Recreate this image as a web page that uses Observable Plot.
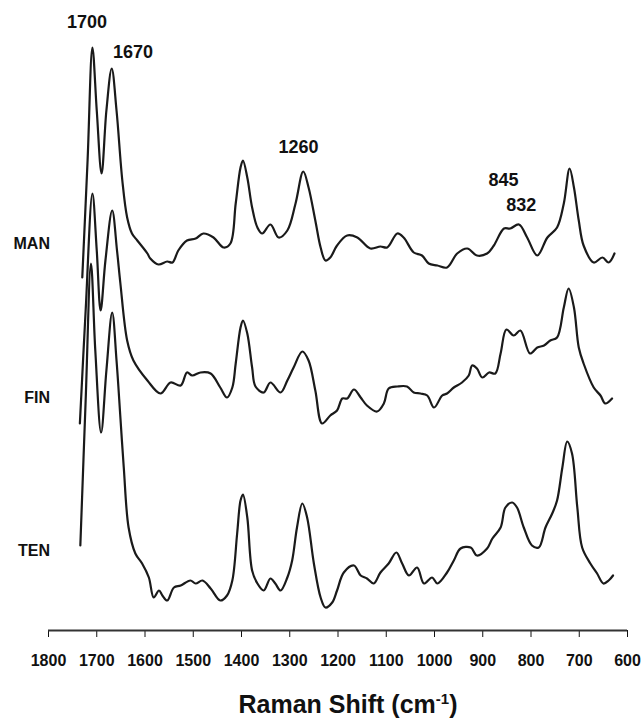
<!DOCTYPE html>
<html>
<head>
<meta charset="utf-8">
<script src="https://cdn.jsdelivr.net/npm/d3@7"></script>
<script src="https://cdn.jsdelivr.net/npm/@observablehq/plot@0.6"></script>
<style>
  html, body { margin: 0; padding: 0; background: #fff; }
  #chart { width: 644px; }
  #xtitle { font-family: "Liberation Sans", Arial, sans-serif; font-weight: bold; font-size: 25px;
            color: #111; text-align: center; padding-left: 52px; width: 592px; line-height: 30px; }
  #xtitle sup { font-size: 0.6em; }
</style>
</head>
<body>
<div id="chart"></div>
<div id="xtitle">Raman Shift (cm<sup>-1</sup>)</div>
<script>
// Raman shift (cm-1) and stacked intensity (a.u.) for each sample
const manShift = [1730,1719,1709,1700,1690,1680,1669,1659,1647,1637,1627,1616,1595,1589,1572,1554,1543,1531,1513,1495,1479,1458,1437,1423,1412,1402,1397,1388,1378,1367,1357,1340,1323,1305,1288,1272,1261,1247,1236,1226,1216,1202,1181,1160,1133,1112,1098,1077,1064,1043,1026,1012,994,974,953,932,912,891,877,856,843,825,808,787,766,746,732,720,711,701,691,670,652,639,627];
const manIntensity = [353,470,583,520,457,520,562,520,450,413,397,390,377,372,366,369,368,380,390,392,397,393,383,387,427,463,470,453,423,403,397,406,393,400,427,459,443,410,383,370,373,385,395,393,382,384,383,397,393,378,375,367,365,363,377,382,375,377,385,402,402,406,393,375,393,403,427,462,443,410,385,368,373,368,377];

const finShift = [1735,1723,1709,1700,1692,1682,1668,1658,1651,1637,1624,1595,1568,1547,1526,1513,1502,1485,1464,1444,1430,1419,1412,1402,1397,1388,1378,1371,1354,1340,1319,1305,1292,1274,1261,1247,1233,1216,1202,1191,1181,1167,1153,1140,1119,1105,1095,1077,1057,1043,1029,1015,1001,984,974,960,943,929,922,912,901,887,874,863,851,836,822,802,787,773,760,746,732,722,711,701,691,670,656,646,632];
const finIntensity = [207,320,437,380,320,370,420,380,347,290,270,250,237,248,245,258,255,258,257,243,233,243,267,303,310,297,263,244,238,248,238,250,263,279,270,240,207,215,220,232,232,241,233,225,219,227,242,244,244,238,237,235,223,235,237,243,248,255,265,262,253,258,257,277,301,295,300,277,283,285,290,293,323,342,323,283,267,243,235,227,232];

const tenShift = [1734,1723,1712,1703,1691,1680,1668,1659,1651,1644,1634,1620,1606,1592,1582,1571,1564,1554,1540,1526,1506,1495,1481,1464,1444,1430,1419,1409,1402,1397,1388,1378,1367,1354,1340,1330,1319,1305,1295,1285,1274,1264,1250,1236,1226,1212,1202,1188,1167,1153,1140,1126,1112,1095,1079,1067,1053,1036,1022,1005,994,974,960,946,925,912,891,880,863,853,839,829,815,798,784,770,756,746,735,725,715,704,694,677,663,650,639,630];
const tenIntensity = [85,230,367,280,198,260,318,270,213,163,103,77,67,53,33,40,35,30,43,45,50,47,50,42,30,35,50,97,130,136,113,60,47,40,52,47,40,53,70,103,127,113,67,33,23,28,40,58,65,55,52,47,58,67,78,67,55,63,47,53,47,58,70,82,83,75,82,92,103,123,128,123,103,85,83,103,117,130,163,189,177,123,83,67,57,47,50,55];

const samples = ["MAN", "FIN", "TEN"];
const sampleLabelLevel = [387, 233, 80];   // intensity level at which each sample name sits
const xTicks = [1800,1700,1600,1500,1400,1300,1200,1100,1000,900,800,700,600];

const peakLabels = ["1700", "1670", "1260", "845", "832"];
const peakLabelShift = [1720, 1625, 1282, 857, 820];
const peakLabelLevel = [608, 578, 483, 450, 425];

const spectra = [
  ...manShift.map((s, i) => ({sample: "MAN", shift: s, intensity: manIntensity[i]})),
  ...finShift.map((s, i) => ({sample: "FIN", shift: s, intensity: finIntensity[i]})),
  ...tenShift.map((s, i) => ({sample: "TEN", shift: s, intensity: tenIntensity[i]}))
];
const sampleLabels = samples.map((s, i) => ({name: s, level: sampleLabelLevel[i]}));
const peaks = peakLabels.map((t, i) => ({text: t, shift: peakLabelShift[i], level: peakLabelLevel[i]}));

const chart = Plot.plot({
  width: 644,
  height: 684,
  marginLeft: 48,
  marginRight: 17,
  marginTop: 0,
  marginBottom: 54,
  style: {fontFamily: "'Liberation Sans', Arial, sans-serif", fontSize: "16px", fontWeight: "bold", color: "#111", background: "#fff"},
  x: {domain: [1800, 600], range: [48, 627], ticks: xTicks, tickSize: 7, tickPadding: 17, tickFormat: d => String(d), label: null},
  y: {domain: [0, 630], range: [630, 0], axis: null},
  marks: [
    Plot.ruleY([0], {x1: 1800, x2: 600, stroke: "#333", strokeWidth: 2}),
    Plot.line(spectra, {x: "shift", y: "intensity", z: "sample", stroke: "#1a1a1a", strokeWidth: 2.2, curve: "catmull-rom"}),
    Plot.text(peaks, {x: "shift", y: "level", text: "text", fontSize: 18, fontWeight: "bold", fill: "#111"}),
    Plot.text(sampleLabels, {x: 1797, y: "level", text: "name", textAnchor: "end", fontSize: 16, fontWeight: "bold", fill: "#111"})
  ]
});
document.getElementById("chart").appendChild(chart);
</script>
</body>
</html>
